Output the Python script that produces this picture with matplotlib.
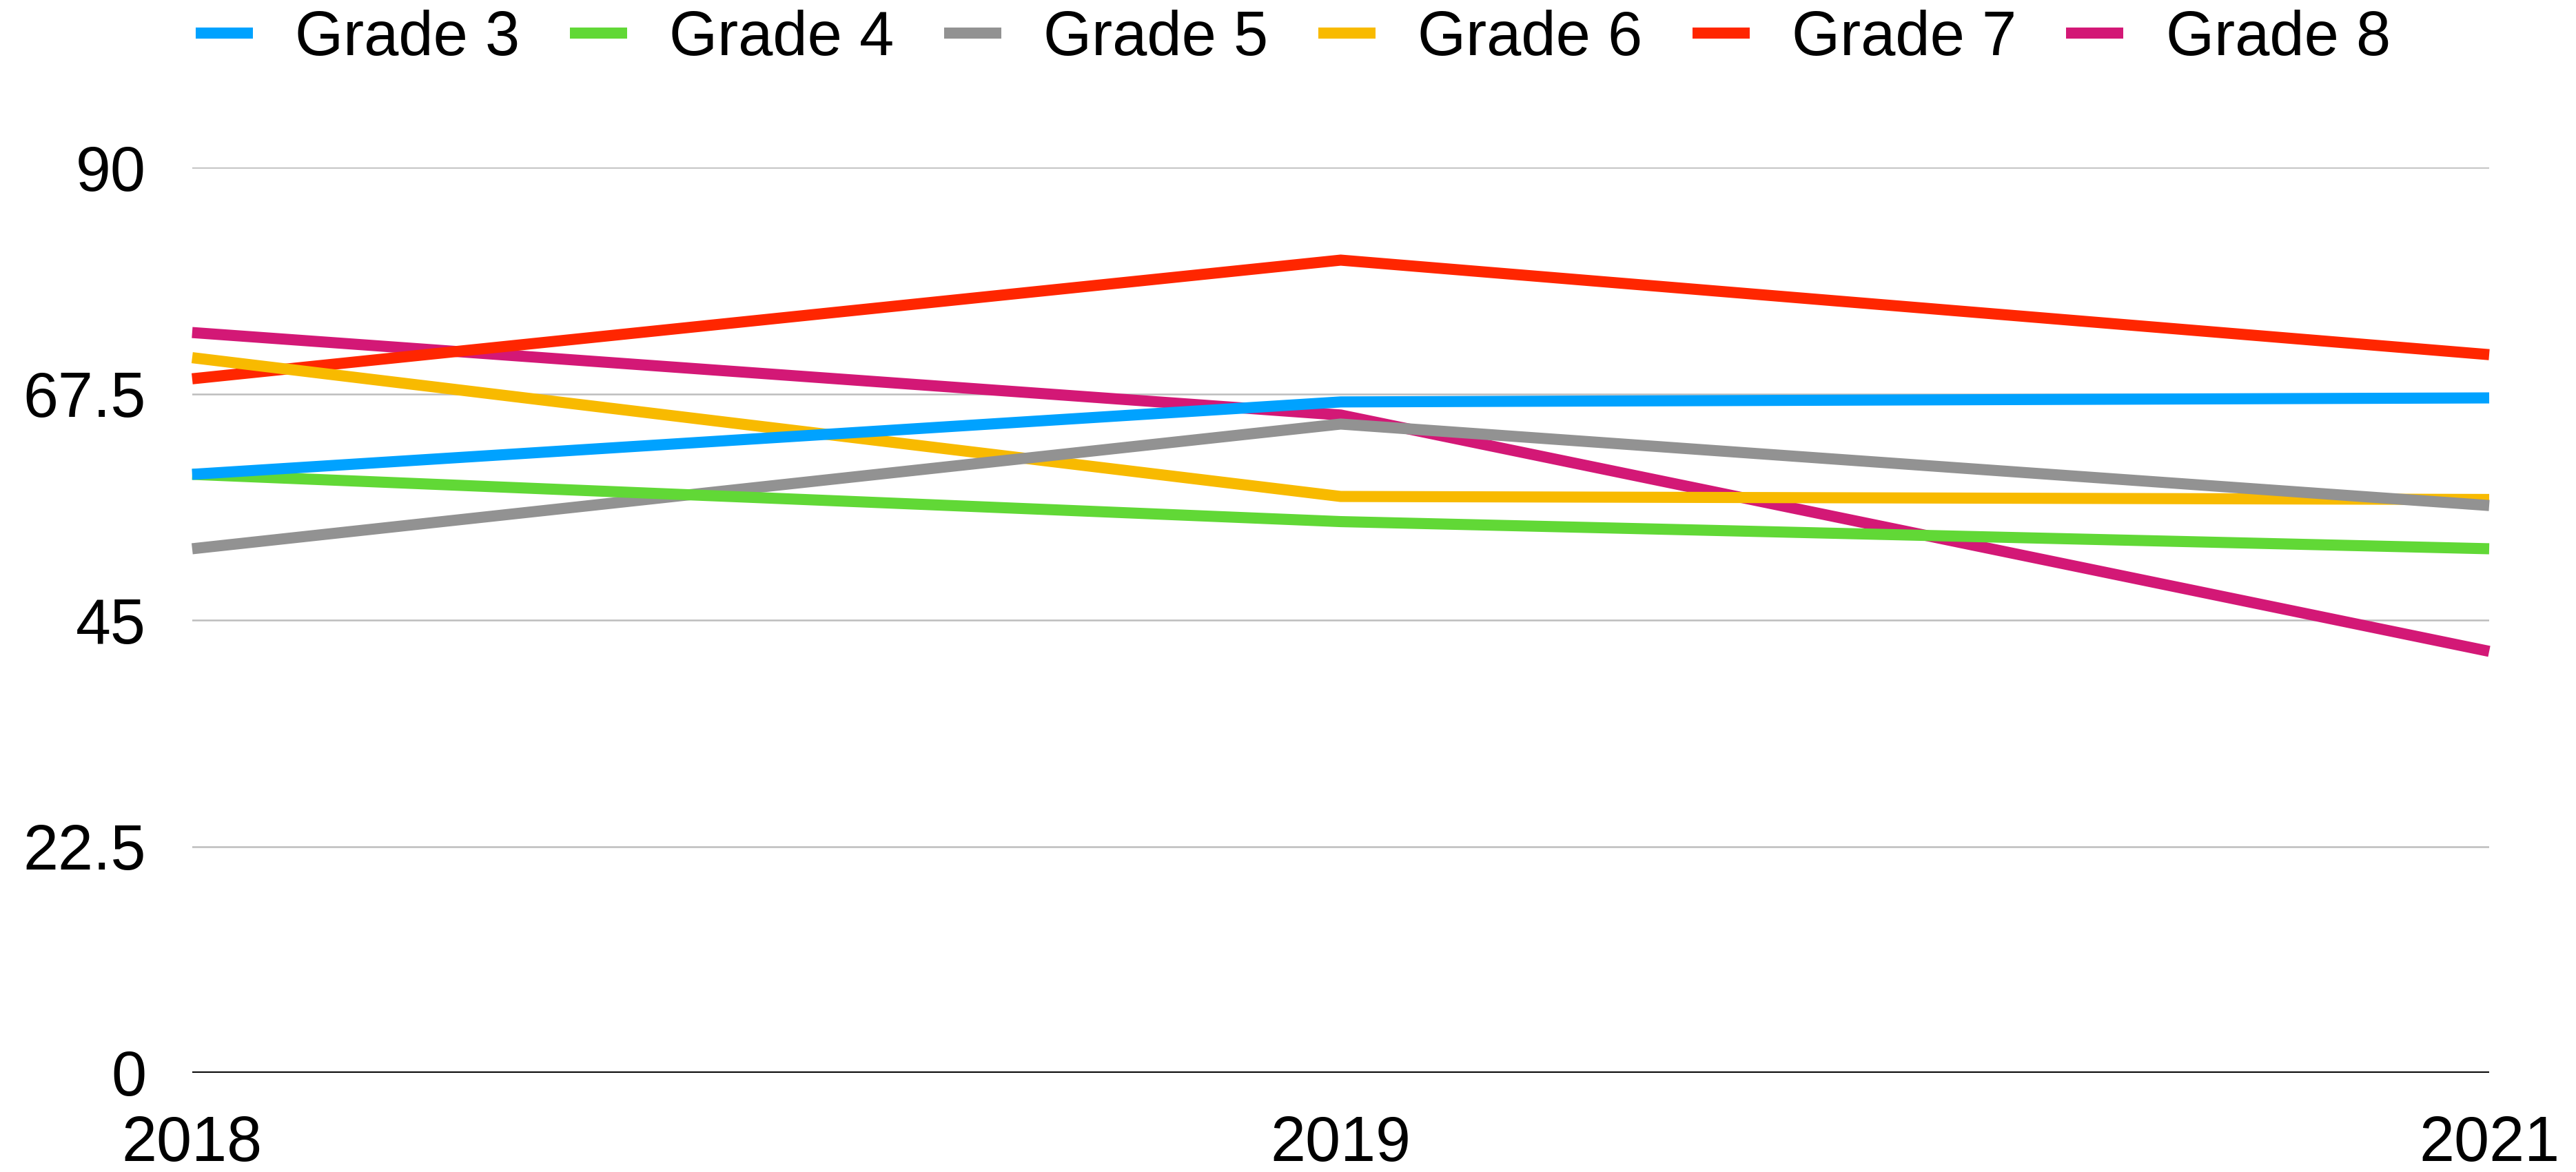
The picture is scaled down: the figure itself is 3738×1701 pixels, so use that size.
import matplotlib
matplotlib.use("Agg")
import matplotlib.pyplot as plt

years = ["2018", "2019", "2021"]
series_names = ["Grade 3", "Grade 4", "Grade 5", "Grade 6", "Grade 7", "Grade 8"]
grade3 = [59.5, 66.7, 67.1]
grade4 = [59.5, 54.8, 52.1]
grade5 = [52.1, 64.5, 56.4]
grade6 = [71.1, 57.3, 57.0]
grade7 = [69.0, 80.8, 71.4]
grade8 = [73.6, 65.4, 41.9]
values = [grade3, grade4, grade5, grade6, grade7, grade8]
colors = ["#00A2FF", "#61D836", "#929292", "#F8BA00", "#FF2600", "#D31876"]
yticks = [0, 22.5, 45, 67.5, 90]
ytick_labels = ["0", "22.5", "45", "67.5", "90"]

plt.rcParams['font.family'] = ['Liberation Sans', 'DejaVu Sans']

fig = plt.figure(figsize=(18.69, 8.505), dpi=200)
ax = fig.add_axes([0.0746, 0.0847, 0.8917, 0.7723])

x = list(range(len(years)))
handles = []
for i, (name, vals, c) in enumerate(zip(series_names, values, colors)):
    h, = ax.plot(x, vals, color=c, lw=5.8, solid_capstyle='butt',
                 solid_joinstyle='miter', zorder=10 - i, label=name,
                 clip_on=False)
    handles.append(h)

ax.set_xlim(0, len(years) - 1)
ax.set_ylim(0, 90)
ax.set_xticks(x)
ax.set_xticklabels(years)
ax.set_yticks(yticks)
ax.set_yticklabels(ytick_labels)
ax.tick_params(axis='both', length=0, labelsize=33)
ax.tick_params(axis='y', pad=24)
ax.tick_params(axis='x', pad=22)

for yv in yticks[1:]:
    ax.axhline(yv, color="#BDBDBD", lw=0.9, zorder=1)
ax.axhline(0, color="black", lw=1.4, zorder=2)

for s in ax.spines.values():
    s.set_visible(False)

fig.legend(handles=handles, labels=series_names, loc='center',
           bbox_to_anchor=(0.502, 0.967), ncol=6, frameon=False,
           fontsize=32.5, handlelength=0.92, handletextpad=0.68,
           columnspacing=0.8, borderaxespad=0)

fig.savefig("out.png", dpi=200)
